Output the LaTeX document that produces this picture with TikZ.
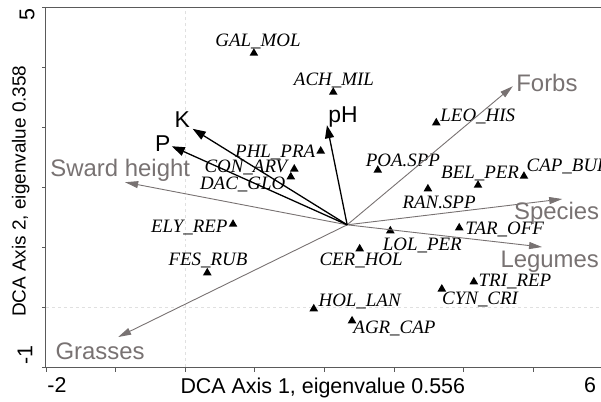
\documentclass[tikz,border=0pt]{standalone}
\usepackage{fontspec}
\setmainfont{Liberation Serif}
\setsansfont{Liberation Sans}
\usetikzlibrary{shapes.geometric,arrows.meta,positioning}
\definecolor{envgray}{HTML}{787272}
\definecolor{framegray}{HTML}{5A5A5A}

\begin{document}
\begin{tikzpicture}[x=69.6bp,y=60bp,
    sp/.style={regular polygon,regular polygon sides=3,fill=black,inner sep=0pt,minimum size=10bp},
    splab/.style={font=\fontsize{19}{21}\selectfont\itshape,inner sep=0.5bp},
    envarrow/.style={envgray,line width=0.9bp,-{Triangle[length=13bp,width=7bp]}},
    soilarrow/.style={black,line width=1.3bp,-{Triangle[length=13bp,width=9bp]}},
    envlab/.style={envgray,font=\sffamily\fontsize{24}{26}\selectfont,inner sep=0pt},
    soillab/.style={black,font=\sffamily\fontsize{23}{26}\selectfont,inner sep=0pt},
    axlab/.style={font=\sffamily\fontsize{21.5}{24}\selectfont,inner sep=0pt}]
    \useasboundingbox (-2.658,-1.567) rectangle (5.977,5.117);

    % zero lines
    \draw[black!12,dashed] (0,-1) -- (0,5);
    \draw[black!12,dashed] (-2,0) -- (6,0);

    % frame and ticks
    \draw[framegray,line width=0.8bp] (6,5) -- (-2,5) -- (-2,-1) -- (6,-1);
    \foreach \i in {-2,...,6} \draw[framegray] (\i,-1) -- ++(0,-5bp);
    \foreach \j in {-1,...,5} \draw[framegray] (-2,\j) -- ++(-4bp,0);

    % axis labels
    \node[axlab,rotate=90] (yMax) at (-2.27,4.87) {5};
    \node[axlab,rotate=90] (yMin) at (-2.30,-0.80) {-1};
    \node[axlab] (xMin) at (-1.84,-1.30) {-2};
    \node[axlab] (xMax) at (5.82,-1.30) {6};
    \node[axlab,rotate=90,font=\sffamily\fontsize{19}{22}\selectfont] (yTitle) at (-2.36,1.93) {DCA Axis 2, eigenvalue 0.358};
    \node[axlab] (xTitle) at (1.98,-1.35) {DCA Axis 1, eigenvalue 0.556};

    % species
    \node[sp] (galMol) at (0.99,4.23) {};
    \node[splab] (galMolL) at (1.05,4.43) {GAL\_MOL};
    \node[sp] (achMil) at (2.13,3.58) {};
    \node[splab] (achMilL) at (2.14,3.78) {ACH\_MIL};
    \node[sp] (leoHis) at (3.61,3.07) {};
    \node[splab,anchor=west] (leoHisL) at (3.66,3.18) {LEO\_HIS};
    \node[sp] (phlPra) at (1.95,2.60) {};
    \node[splab,anchor=east] (phlPraL) at (1.88,2.58) {PHL\_PRA};
    \node[sp] (conArv) at (1.57,2.30) {};
    \node[splab,anchor=east] (conArvL) at (1.48,2.32) {CON\_ARV};
    \node[sp] (dacGlo) at (1.52,2.17) {};
    \node[splab,anchor=east] (dacGloL) at (1.45,2.05) {DAC\_GLO};
    \node[sp] (poaSpp) at (2.77,2.28) {};
    \node[splab] (poaSppL) at (3.13,2.45) {POA.SPP};
    \node[sp] (belPer) at (4.21,2.03) {};
    \node[splab] (belPerL) at (4.24,2.22) {BEL\_PER};
    \node[sp] (capBur) at (4.87,2.18) {};
    \node[splab,anchor=west] (capBurL) at (4.90,2.35) {CAP\_BUR};
    \node[sp] (ranSpp) at (3.49,1.97) {};
    \node[splab] (ranSppL) at (3.65,1.75) {RAN.SPP};
    \node[sp] (tarOff) at (3.94,1.32) {};
    \node[splab,anchor=west] (tarOffL) at (4.02,1.30) {TAR\_OFF};
    \node[sp] (lolPer) at (2.95,1.27) {};
    \node[splab] (lolPerL) at (3.41,1.02) {LOL\_PER};
    \node[sp] (cerHol) at (2.51,0.97) {};
    \node[splab] (cerHolL) at (2.53,0.78) {CER\_HOL};
    \node[sp] (elyRep) at (0.69,1.38) {};
    \node[splab,anchor=east] (elyRepL) at (0.62,1.33) {ELY\_REP};
    \node[sp] (fesRub) at (0.32,0.57) {};
    \node[splab] (fesRubL) at (0.33,0.78) {FES\_RUB};
    \node[sp] (holLan) at (1.85,-0.03) {};
    \node[splab,anchor=west] (holLanL) at (1.91,0.10) {HOL\_LAN};
    \node[sp] (agrCap) at (2.40,-0.23) {};
    \node[splab,anchor=west] (agrCapL) at (2.41,-0.35) {AGR\_CAP};
    \node[sp] (cynCri) at (3.69,0.30) {};
    \node[splab] (cynCriL) at (4.24,0.12) {CYN\_CRI};
    \node[sp] (triRep) at (4.15,0.42) {};
    \node[splab,anchor=west] (triRepL) at (4.21,0.42) {TRI\_REP};

    % environmental arrows
    \coordinate (o) at (2.33,1.37);
    \coordinate (swardTip) at (-0.86,2.08);
    \coordinate (forbsTip) at (4.71,3.68);
    \coordinate (speciesTip) at (5.42,1.80);
    \coordinate (legumesTip) at (5.13,1.00);
    \coordinate (grassesTip) at (-0.96,-0.50);
    \draw[envarrow] (o) -- (swardTip);
    \draw[envarrow] (o) -- (forbsTip);
    \draw[envarrow] (o) -- (speciesTip);
    \draw[envarrow] (o) -- (legumesTip);
    \draw[envarrow] (o) -- (grassesTip);
    \node[envlab] (sward) at (-0.93,2.28) {Sward height};
    \node[envlab] (forbs) at (5.20,3.73) {Forbs};
    \node[envlab] (species) at (5.34,1.57) {Species};
    \node[envlab] (legumes) at (5.24,0.75) {Legumes};
    \node[envlab] (grasses) at (-1.22,-0.73) {Grasses};

    % soil arrows
    \coordinate (kTip) at (0.11,2.97);
    \coordinate (pTip) at (-0.19,2.68);
    \coordinate (phTip) at (2.04,3.03);
    \draw[soilarrow] (o) -- (kTip);
    \draw[soilarrow] (o) -- (pTip);
    \draw[soilarrow] (o) -- (phTip);
    \node[soillab] (kLab) at (-0.04,3.12) {K};
    \node[soillab] (pLab) at (-0.32,2.73) {P};
    \node[soillab] (phLab) at (2.27,3.17) {pH};
\end{tikzpicture}
\end{document}
